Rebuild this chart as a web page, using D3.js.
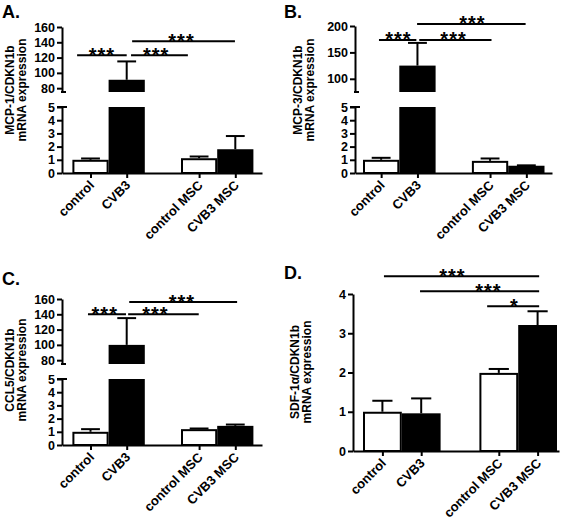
<!DOCTYPE html>
<html><head><meta charset="utf-8">
<script src="https://cdn.jsdelivr.net/npm/d3@7"></script>
<style>
body{margin:0;background:#fff}
svg{display:block}
text{font-family:"Liberation Sans",Arial,Helvetica,sans-serif;font-weight:bold;fill:#000}
</style>
</head><body><svg id="c" width="568" height="524"></svg>
<script>
// ---------- data ----------
const categories = ["control", "CVB3", "control MSC", "CVB3 MSC"];
const slots = [0, 1, 3, 4];
const fills = ["#fff", "#000", "#fff", "#000"];

const meanA = [1.0, 91, 1.12, 1.8];
const semA  = [0.1, 24, 0.13, 1.0];
const meanB = [1.0, 125, 0.92, 0.55];
const semB  = [0.15, 43, 0.18, 0.03];
const meanC = [1.0, 100, 1.2, 1.45];
const semC  = [0.2, 35, 0.05, 0.1];
const meanD = [1.0, 0.96, 1.99, 3.21];
const semD  = [0.28, 0.38, 0.1, 0.35];

const lowTicks = [0, 1, 2, 3, 4, 5];
const upTicksA = [80, 100, 120, 140, 160];
const upTicksB = [100, 150, 200];
const upTicksC = [80, 100, 120, 140, 160];
const ticksD = [0, 1, 2, 3, 4];

// comparisons: from/to/at in slot units, y in data units
const sigFromA = [-0.37, 1.12, 1.15], sigToA = [1.0, 2.69, 3.99], sigYA = [123, 123, 141.5], sigAtA = [0.3, 1.8, 2.5], sigLabA = ["***", "***", "***"];
const sigFromB = [-0.06, 1.05, 0.99], sigToB = [0.97, 3.04, 3.98], sigYB = [173.5, 173.5, 204], sigAtB = [0.46, 1.98, 2.5], sigLabB = ["***", "***", "***"];
const sigFromC = [-0.07, 1.04, 1.07], sigToC = [0.98, 2.99, 4.05], sigYC = [140, 140, 156], sigAtC = [0.38, 1.78, 2.51], sigLabC = ["***", "***", "***"];
const sigFromD = [0.04, 0.97, 2.7], sigToD = [4.04, 4.04, 4.04], sigYD = [4.45, 4.07, 3.69], sigAtD = [1.79, 2.72, 3.39], sigLabD = ["***", "***", "*"];

// ---------- drawing ----------
const svg = d3.select("#c");
const SW = 2;

function makeSig(from, to, y, at, lab) {
  return from.map((f, i) => ({from: f, to: to[i], y: y[i], at: at[i], label: lab[i]}));
}

function drawPanel(p) {
  const g = svg.append("g");
  const x = d3.scaleLinear().domain([-0.5, 4.5]).range([p.barL, p.barR]);
  const xAxisScale = d3.scaleLinear()
    .domain([x.invert(p.axisX), x.invert(p.axisR)]).range([p.axisX, p.axisR]);
  const bw = x(0.5) - x(-0.5);
  const data = categories.map((c, i) => ({c, s: slots[i], m: p.mean[i], e: p.sem[i], f: fills[i]}));

  let yLow, yUp;
  if (p.broken) {
    yLow = d3.scaleLinear().domain([0, 5]).range([p.y0, p.lowTop]);
    yUp = d3.scaleLinear().domain(p.upDomain).range([p.upBottom, p.upTop]);
  } else {
    yLow = d3.scaleLinear().domain(p.domain).range([p.y0, p.yTop]);
  }

  // bars
  data.forEach(d => {
    const x0 = x(d.s - 0.5);
    if (p.broken && d.m > 5) {
      g.append("rect").attr("x", x0).attr("width", bw)
        .attr("y", yLow(5)).attr("height", yLow(0) - yLow(5)).attr("fill", d.f);
      g.append("rect").attr("x", x0).attr("width", bw)
        .attr("y", yUp(d.m)).attr("height", yUp(p.upDomain[0]) - yUp(d.m)).attr("fill", d.f);
    } else {
      const w = d.f === "#fff";
      g.append("rect").attr("x", x0 + (w ? 1 : 0)).attr("width", bw - (w ? 2 : 0))
        .attr("y", yLow(d.m) + (w ? 1 : 0))
        .attr("height", yLow(0) - yLow(d.m) - (w ? 1 : 0))
        .attr("fill", d.f).attr("stroke", "#000").attr("stroke-width", w ? SW : 0);
    }
    // error bar (upper only)
    const ys = (p.broken && d.m > 5) ? yUp : yLow;
    const cx = x(d.s);
    g.append("line").attr("x1", cx).attr("x2", cx).attr("y1", ys(d.m)).attr("y2", ys(d.m + d.e))
      .attr("stroke", "#000").attr("stroke-width", SW);
    g.append("line").attr("x1", cx - bw * 0.26).attr("x2", cx + bw * 0.26)
      .attr("y1", ys(d.m + d.e)).attr("y2", ys(d.m + d.e))
      .attr("stroke", "#000").attr("stroke-width", SW);
  });

  function styleAxis(sel) {
    sel.select(".domain").attr("stroke", "#000").attr("stroke-width", SW);
    sel.selectAll(".tick line").attr("stroke", "#000").attr("stroke-width", SW);
    sel.selectAll("text").attr("font-size", 12.5).attr("fill", "#000")
      .style("font-family", '"Liberation Sans",Arial,sans-serif').style("font-weight", "bold");
  }

  // y axes
  const ga = g.append("g").attr("transform", `translate(${p.axisX},0)`)
    .call(d3.axisLeft(yLow).tickValues(p.broken ? lowTicks : p.ticks).tickSize(5).tickSizeOuter(0).tickPadding(2).tickFormat(d3.format("d")));
  styleAxis(ga);
  if (p.broken) {
    const gu = g.append("g").attr("transform", `translate(${p.axisX},0)`)
      .call(d3.axisLeft(yUp).tickValues(p.upTicks).tickSize(5).tickSizeOuter(0).tickPadding(2).tickFormat(d3.format("d")));
    styleAxis(gu);
    // break marks
    g.append("line").attr("x1", p.axisX - 1).attr("x2", p.axisX + 4)
      .attr("y1", p.upBottom).attr("y2", p.upBottom).attr("stroke", "#000").attr("stroke-width", SW);
    g.append("line").attr("x1", p.axisX - 5).attr("x2", p.axisX + 5)
      .attr("y1", p.lowTop).attr("y2", p.lowTop).attr("stroke", "#000").attr("stroke-width", SW);
  }

  // x axis
  const gx = g.append("g").attr("transform", `translate(0,${p.y0})`)
    .call(d3.axisBottom(xAxisScale).tickValues(slots).tickSize(5).tickSizeOuter(0)
      .tickFormat(v => categories[slots.indexOf(v)]));
  styleAxis(gx);
  gx.selectAll(".tick text").attr("font-size", 13).attr("y", null).attr("dy", null).attr("x", null)
    .attr("text-anchor", "end").attr("transform", "translate(4,13) rotate(-45)");

  // y title
  const t = g.append("text").attr("transform", `translate(0,${p.ty}) rotate(-90)`)
    .attr("text-anchor", "middle").attr("font-size", 12);
  p.title.forEach((line, i) => {
    t.append("tspan").attr("x", 0).attr("y", p.tx[i]).text(line);
  });

  // panel letter
  g.append("text").attr("x", p.lx).attr("y", p.ly).attr("font-size", 18).text(p.letter);

  // significance
  const ys = p.broken ? yUp : yLow;
  p.sig.forEach(s => {
    g.append("line").attr("x1", x(s.from)).attr("x2", x(s.to)).attr("y1", ys(s.y)).attr("y2", ys(s.y))
      .attr("stroke", "#000").attr("stroke-width", SW);
    g.append("text").attr("x", x(s.at) + 0.5).attr("y", ys(s.y) + 6.5)
      .attr("text-anchor", "middle").attr("font-size", 20).attr("letter-spacing", 1).text(s.label);
  });
}

drawPanel({letter: "A.", lx: 2, ly: 18, title: ["MCP-1/CDKN1b", "mRNA expression"], tx: [14, 26], ty: 90,
  axisX: 62, axisR: 262, barL: 72.4, barR: 253.4, y0: 173, broken: true, lowTop: 107, upBottom: 92, upTop: 27,
  upDomain: [75, 160], upTicks: upTicksA, mean: meanA, sem: semA, sig: makeSig(sigFromA, sigToA, sigYA, sigAtA, sigLabA)});

drawPanel({letter: "B.", lx: 284, ly: 18, title: ["MCP-3/CDKN1b", "mRNA expression"], tx: [302, 314], ty: 90,
  axisX: 355, axisR: 552, barL: 363, barR: 544.5, y0: 173, broken: true, lowTop: 107, upBottom: 92, upTop: 26,
  upDomain: [75, 200], upTicks: upTicksB, mean: meanB, sem: semB, sig: makeSig(sigFromB, sigToB, sigYB, sigAtB, sigLabB)});

drawPanel({letter: "C.", lx: 2, ly: 285, title: ["CCL5/CDKN1b", "mRNA expression"], tx: [14, 26], ty: 370,
  axisX: 62, axisR: 262, barL: 72.4, barR: 253.4, y0: 445, broken: true, lowTop: 379, upBottom: 364, upTop: 299,
  upDomain: [75, 160], upTicks: upTicksC, mean: meanC, sem: semC, sig: makeSig(sigFromC, sigToC, sigYC, sigAtC, sigLabC)});

drawPanel({letter: "D.", lx: 284, ly: 279, title: ["SDF-1\u03b1/CDKN1b", "mRNA expression"], tx: [299, 311], ty: 372,
  axisX: 353, axisR: 559, barL: 363, barR: 557, y0: 451, broken: false, yTop: 294, domain: [0, 4], ticks: ticksD,
  mean: meanD, sem: semD, sig: makeSig(sigFromD, sigToD, sigYD, sigAtD, sigLabD)});
</script>
</body></html>
